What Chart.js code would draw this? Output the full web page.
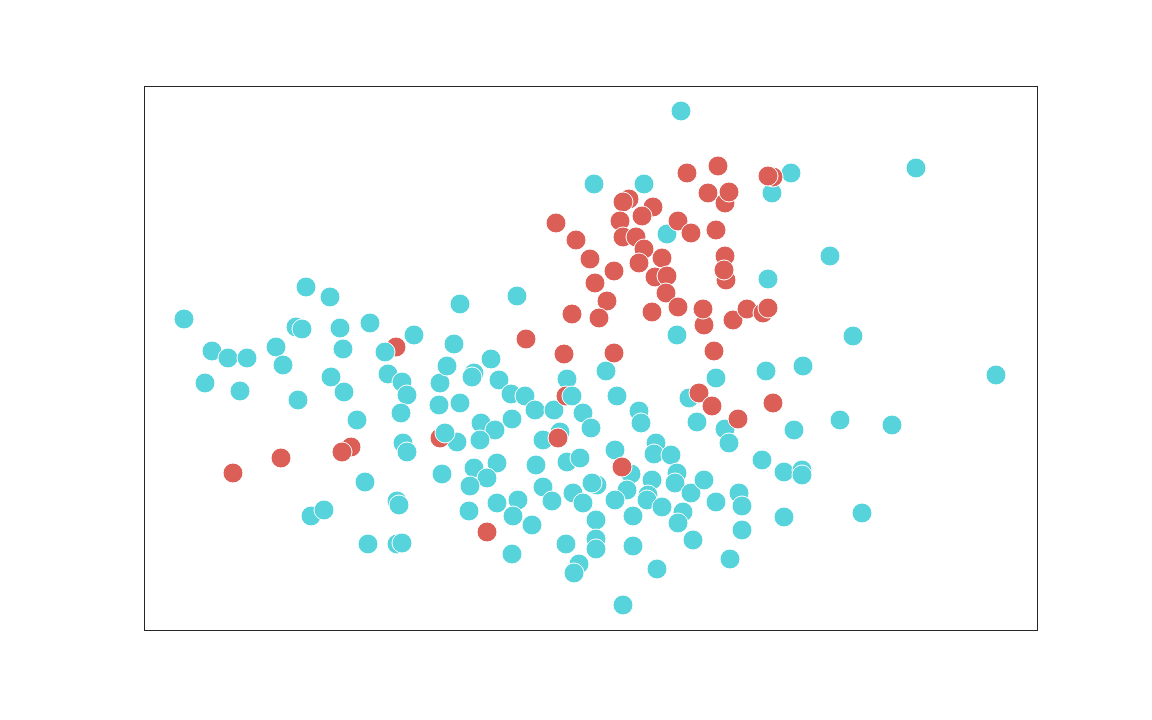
<!DOCTYPE html>
<html>
<head>
<meta charset="utf-8">
<script src="https://cdn.jsdelivr.net/npm/chart.js@4/dist/chart.umd.min.js"></script>
<style>
  html, body { margin: 0; padding: 0; background: #ffffff; }
  #wrap { width: 1152px; height: 720px; position: relative; }
</style>
</head>
<body>
<div id="wrap"><canvas id="c"></canvas></div>
<script>
// Series A (teal) values
const tealX = [40,162,186,152,158,196,226,270,68,84,103,132,139,199,61,96,187,200,154,244,258,263,257,213,296,295,310,303,259,263,298,221,167,180,253,255,224,253,258,316,373,347,330,328,355,462,423,367,381,316,391,410,439,473,337,368,351,447,495,497,313,336,399,416,471,512,510,527,353,392,423,436,330,343,326,487,508,533,531,453,448,399,429,483,504,503,325,353,374,369,388,408,439,471,489,518,539,534,547,560,572,595,598,598,640,452,452,452,422,489,368,435,430,549,586,513,479,450,500,537,647,628,772,523,686,624,533,709,572,622,659,545,553,581,585,650,696,748,852,618,640,658,658,718];
const tealY = [311,343,333,303,301,302,307,295,279,272,272,283,265,281,247,239,253,238,230,256,248,235,217,210,247,225,286,264,187,178,156,148,114,120,129,125,86,86,87,326,334,271,257,253,250,259,251,236,234,227,220,220,217,234,207,211,200,202,219,207,188,190,190,198,180,187,176,175,167,165,168,172,162,152,144,156,150,157,147,145,147,143,137,140,135,130,119,127,130,114,105,129,127,130,114,123,118,107,137,150,128,137,124,100,113,110,91,81,86,84,76,66,57,90,71,61,25,446,446,519,457,437,462,396,374,351,295,294,252,259,264,232,208,201,187,200,210,205,255,170,158,160,155,117];
// Teal points that sit above red ones
const tealTopX = [241,301,428];
const tealTopY = [278,197,234];
// Series B (red) values
const redX = [89,137,207,198,252,296,343,382,420,414,422,470,478,451,463,428,455,508,412,432,446,470,485,479,509,498,476,479,492,500,495,518,511,523,522,534,543,574,629,624,564,581,585,534,547,572,581,582,580,560,559,589,603,619,624,570,555,568,629,594];
const redY = [157,172,183,178,283,192,98,291,276,192,234,277,163,347,329,316,312,318,407,390,371,359,431,428,423,414,409,393,393,381,367,372,353,354,337,323,457,464,453,454,437,427,438,409,397,400,374,350,360,305,321,310,321,317,322,279,237,224,227,211];
// Axis ranges
const xRange = [0, 893];
const yRange = [0, 544];

const TEAL = '#57d3db';
const RED = '#db5f57';

function pts(xs, ys) { return xs.map((x, i) => ({ x: x, y: ys[i] })); }

const framePlugin = {
  id: 'frame',
  beforeDatasetsDraw(chart) {
    const a = chart.chartArea, ctx = chart.ctx;
    ctx.save();
    ctx.strokeStyle = '#262626';
    ctx.lineWidth = 1;
    ctx.strokeRect(a.left + 0.5, a.top + 0.5, a.right - a.left, a.bottom - a.top);
    ctx.restore();
  }
};

const common = { pointRadius: 10, pointHoverRadius: 10, borderColor: '#ffffff', borderWidth: 1, pointBorderWidth: 1, clip: false };

new Chart(document.getElementById('c'), {
  type: 'scatter',
  data: {
    datasets: [
      Object.assign({ label: 'teal-top', data: pts(tealTopX, tealTopY), backgroundColor: TEAL }, common),
      Object.assign({ label: 'red', data: pts(redX, redY), backgroundColor: RED }, common),
      Object.assign({ label: 'teal', data: pts(tealX, tealY), backgroundColor: TEAL }, common)
    ]
  },
  options: {
    responsive: true,
    maintainAspectRatio: false,
    animation: false,
    layout: { padding: { left: 144, right: 115, top: 86, bottom: 90 } },
    scales: {
      x: { type: 'linear', min: xRange[0], max: xRange[1], display: false },
      y: { type: 'linear', min: yRange[0], max: yRange[1], display: false }
    },
    plugins: { legend: { display: false }, tooltip: { enabled: false } }
  },
  plugins: [framePlugin]
});
</script>
</body>
</html>
